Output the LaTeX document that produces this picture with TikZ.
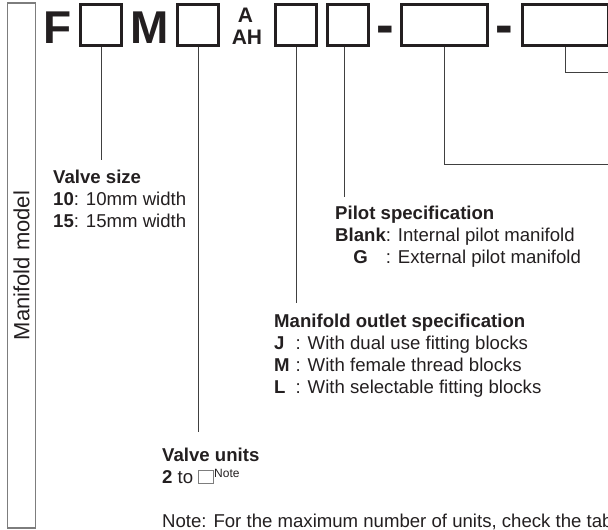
\documentclass[tikz,border=0pt]{standalone}
\usepackage{fontspec}
\setmainfont{Liberation Sans}
\usepackage{xcolor}
\usepackage{tikz}
\definecolor{inkblack}{RGB}{35,31,32}
\definecolor{leadgray}{RGB}{64,64,64}
\definecolor{framegray}{RGB}{125,125,125}
\newcommand{\blankslot}{{\color{framegray}\setlength{\fboxsep}{0pt}\setlength{\fboxrule}{0.9pt}\fbox{\rule{0pt}{12.5pt}\rule{14pt}{0pt}}}}

\begin{document}
\begin{tikzpicture}[
    x=1pt, y=-1pt,
    slot/.style={draw=inkblack, line width=3pt, minimum width=41pt, minimum height=41pt, inner sep=0pt},
    wideslot/.style={slot, minimum width=86pt},
    bigchar/.style={inner sep=0pt, anchor=base, text=inkblack, font=\fontsize{46}{46}\selectfont\bfseries},
    suffix/.style={inner sep=0pt, anchor=base, text=inkblack, font=\fontsize{21}{21}\selectfont\bfseries},
    lead/.style={draw=leadgray, line width=1pt},
    desc/.style={inner sep=0pt, anchor=base west, text=inkblack, font=\fontsize{18.6}{22}\selectfont}
]
\useasboundingbox (0,0) rectangle (608,530);
\clip (0,0) rectangle (608,530);

% Model frame
\node[draw=framegray, line width=1.4pt, minimum width=28pt, minimum height=525pt, inner sep=0pt] (frame) at (21.5,265.5) {};
\node[rotate=90, inner sep=0pt, text=inkblack, font=\fontsize{22}{22}\selectfont] (framelbl) at (frame) {Manifold model};

% Model code
\node[bigchar] (fchar) at (57.5,43) {F};
\node[slot] (sizebox) at (101,25) {};
\node[bigchar] (mchar) at (149.5,43) {M};
\node[slot] (unitsbox) at (198,25) {};
\node[suffix] (achar) at (245.5,22) {A};
\node[suffix] (ahchar) at (247,44) {AH};
\node[slot] (outletbox) at (296,25) {};
\node[slot] (pilotbox) at (348,25) {};
\node[bigchar] (dasha) at (385,44) {\scalebox{1.15}[1.25]{-}};
\node[wideslot] (portbox) at (444.5,25) {};
\node[bigchar] (dashb) at (504.5,44) {\scalebox{1.15}[1.25]{-}};
\node[wideslot] (optbox) at (565.5,25) {};

% Descriptions
\node[desc] (sizelbl) at (53,183) {\begin{tabular}[t]{@{}l@{}}
    \textbf{Valve size}\\
    \textbf{10}: 10mm width\\
    \textbf{15}: 15mm width
\end{tabular}};
\node[desc] (pilotlbl) at (335,219) {\begin{tabular}[t]{@{}c@{}l@{}}
    \multicolumn{2}{@{}l@{}}{\textbf{Pilot specification}}\\
    \textbf{Blank} & : Internal pilot manifold\\
    \textbf{G} & : External pilot manifold
\end{tabular}};
\node[desc] (outletlbl) at (274,327) {\begin{tabular}[t]{@{}l@{\hspace{6pt}}l@{}}
    \multicolumn{2}{@{}l@{}}{\textbf{Manifold outlet specification}}\\
    \textbf{J} & : With dual use fitting blocks\\
    \textbf{M} & : With female thread blocks\\
    \textbf{L} & : With selectable fitting blocks
\end{tabular}};
\node[desc] (unitslbl) at (162,461) {\begin{tabular}[t]{@{}l@{}}
    \textbf{Valve units}\\
    \textbf{2} to \blankslot\raisebox{6pt}{\fontsize{12}{12}\selectfont Note}
\end{tabular}};
\node[desc] (notelbl) at (162,527) {Note: For the maximum number of units, check the table};

% Leader lines
\draw[lead, shorten >=7.6pt] (sizebox.south) -- (sizebox.south |- sizelbl.north);
\draw[lead, shorten >=13.6pt] (unitsbox.south) -- (unitsbox.south |- unitslbl.north);
\draw[lead, shorten >=8.6pt] (outletbox.south) -- (outletbox.south |- outletlbl.north);
\draw[lead, shorten >=6.6pt] ([xshift=-4pt]pilotbox.south) -- ([xshift=-4pt]pilotbox.south |- pilotlbl.north);
\coordinate (portend) at (615,164);
\draw[lead] (portbox.south) |- (portend);
\coordinate (optend) at (615,72);
\draw[lead] (optbox.south) |- (optend);
\end{tikzpicture}
\end{document}
